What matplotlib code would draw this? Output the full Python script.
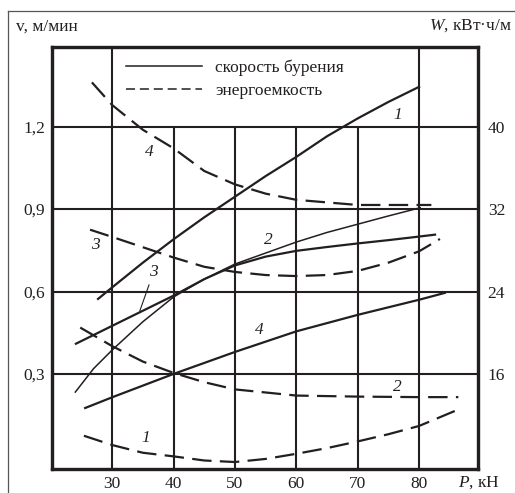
import numpy as np
import matplotlib
matplotlib.use("Agg")
import matplotlib.pyplot as plt
from matplotlib.lines import Line2D

plt.rcParams['font.family'] = 'Liberation Serif'
plt.rcParams['mathtext.fontset'] = 'custom'
plt.rcParams['mathtext.it'] = 'Liberation Serif:italic'
plt.rcParams['mathtext.rm'] = 'Liberation Serif'
plt.rcParams['lines.scale_dashes'] = False

INK = '#231f20'

# drilling speed v, m/min, against axial load P, kN
p_v1 = [27.7, 30, 35, 40, 45, 50, 55, 60, 65, 70, 75, 80]
v1 = [0.573, 0.615, 0.705, 0.79, 0.87, 0.945, 1.02, 1.09, 1.165, 1.23, 1.29, 1.345]
p_v2 = [24.0, 27, 30, 35, 40, 45, 50, 55, 60, 65, 70, 75, 80.2]
v2 = [0.234, 0.32, 0.387, 0.49, 0.58, 0.645, 0.70, 0.74, 0.78, 0.815, 0.845, 0.875, 0.905]
p_v3 = [24.1, 30, 35, 40, 45, 50, 55, 60, 65, 70, 75, 80, 82.6]
v3 = [0.41, 0.475, 0.53, 0.585, 0.645, 0.695, 0.727, 0.748, 0.762, 0.775, 0.787, 0.80, 0.807]
p_v4 = [25.6, 30, 40, 50, 60, 70, 80, 84.2]
v4 = [0.176, 0.215, 0.30, 0.38, 0.455, 0.515, 0.57, 0.595]

# specific energy W, kWh/m
p_w1 = [25.4, 30, 35, 40, 45, 50, 55, 60, 65, 70, 75, 80, 86.2]
w1 = [10.0, 9.1, 8.35, 8.0, 7.6, 7.45, 7.75, 8.25, 8.8, 9.45, 10.15, 10.95, 12.5]
p_w2 = [24.8, 30, 35, 40, 45, 50, 55, 60, 70, 80, 86.4]
w2 = [20.5, 18.7, 17.2, 16.1, 15.2, 14.5, 14.2, 13.9, 13.8, 13.75, 13.75]
p_w3 = [26.4, 30, 35, 40, 45, 50, 55, 60, 65, 70, 75, 80, 83.4]
w3 = [30.0, 29.3, 28.3, 27.3, 26.4, 25.9, 25.6, 25.5, 25.6, 26.0, 26.8, 27.9, 29.1]
p_w4 = [26.7, 30, 35, 40, 45, 50, 55, 60, 70, 82]
w4 = [44.3, 42.1, 39.7, 37.9, 35.7, 34.4, 33.5, 32.9, 32.4, 32.4]

x_ticks = [30, 40, 50, 60, 70, 80]
v_ticks = [0.3, 0.6, 0.9, 1.2]
v_labels = ['0,3', '0,6', '0,9', '1,2']
w_ticks = [16, 24, 32, 40]

xlim = (20.2, 89.6)
vlim = (-0.046, 1.49)
wlim = tuple(8 + 80 / 3 * v for v in vlim)

fig = plt.figure(figsize=(5.15, 4.93), dpi=100)
ax = fig.add_axes([52 / 515, 24 / 493, 426 / 515, 422 / 493])
ax.set_xlim(*xlim)
ax.set_ylim(*vlim)
ax2 = ax.twinx()
ax2.set_ylim(*wlim)

# outer frame around the figure
fig.add_artist(Line2D([8 / 515, 8 / 515], [0, 1 - 11 / 493], transform=fig.transFigure,
                      color='#555555', lw=0.9))
fig.add_artist(Line2D([8 / 515, 1], [1 - 11 / 493, 1 - 11 / 493], transform=fig.transFigure,
                      color='#555555', lw=0.9))

# grid: inner verticals stop at 1,2 to leave room for the legend
for x in x_ticks:
    top = vlim[1] if x in (30, 80) else 1.2
    ax.vlines(x, vlim[0], top, color=INK, lw=1.5, zorder=1)
ax.hlines(v_ticks, *xlim, color=INK, lw=1.5, zorder=1)

for a in (ax, ax2):
    for s in a.spines.values():
        s.set_linewidth(2.3)
        s.set_color(INK)

ax.set_xticks(x_ticks)
ax.set_yticks(v_ticks)
ax.set_yticklabels(v_labels)
ax2.set_yticks(w_ticks)
ax.tick_params(length=0, labelsize=12.5, colors=INK)
ax.tick_params(axis='x', pad=5)
ax.tick_params(axis='y', pad=5)
ax2.tick_params(length=0, labelsize=12.5, colors=INK, pad=7)

# speed curves
ax.plot(p_v1, v1, color=INK, lw=1.6, zorder=3)
ax.plot(p_v2, v2, color=INK, lw=1.1, zorder=3)
ax.plot(p_v3, v3, color=INK, lw=1.6, zorder=3)
ax.plot(p_v4, v4, color=INK, lw=1.6, zorder=3)

# energy curves
for pp, ww in ((p_w1, w1), (p_w2, w2), (p_w3, w3), (p_w4, w4)):
    ln, = ax2.plot(pp, ww, color=INK, lw=1.6, zorder=3)
    ln.set_dashes((14, 6))

# curve numbers
num = dict(fontsize=12.5, style='italic', color=INK, ha='center', va='center')
ax.text(76.6, 1.244, '1', **num)
ax.text(35.4, 0.067, '1', **num)
ax.text(55.4, 0.789, '2', **num)
ax.text(76.4, 0.253, '2', **num)
ax.text(27.2, 0.770, '3', **num)
ax.text(36.7, 0.672, '3', **num)
ax.plot([36.0, 34.5], [0.624, 0.529], color=INK, lw=0.8)
ax.text(36.0, 1.109, '4', **num)
ax.text(53.9, 0.46, '4', **num)

# legend
h_solid = Line2D([], [], color=INK, lw=1.1)
h_dash = Line2D([], [], color=INK, lw=1.1, dashes=(6.5, 3.5))
ax.legend([h_solid, h_dash], ['скорость бурения', 'энергоемкость'],
          loc='upper left', bbox_to_anchor=(126 / 515, 1 - 60 / 493),
          bbox_transform=fig.transFigure, frameon=False, fontsize=12.5,
          handlelength=4.4, handletextpad=0.75, labelspacing=0.35,
          borderpad=0, borderaxespad=0, labelcolor=INK)

# axis titles
fig.text(16 / 515, 1 - 27 / 493, 'v, м/мин', fontsize=12.5, color=INK, va='center')
fig.text(512 / 515, 1 - 26 / 493, '$W$, кВт·ч/м', fontsize=12.5, color=INK,
         va='center', ha='right')
fig.text(458 / 515, 1 - 483 / 493, '$P$, кН', fontsize=12.5, color=INK, va='center')

fig.savefig('out.png', dpi=100)
